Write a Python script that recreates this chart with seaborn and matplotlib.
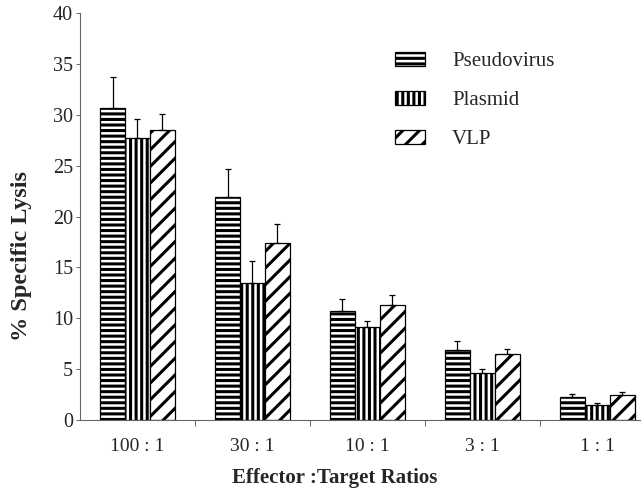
import numpy as np
import pandas as pd
import matplotlib
matplotlib.use("Agg")
import matplotlib.pyplot as plt
from matplotlib.patches import Patch
import seaborn as sns

# -----------------------------
# DATA
# -----------------------------
ratios = ["100 : 1", "30 : 1", "10 : 1", "3 : 1", "1 : 1"]
antigens = ["Pseudovirus", "Plasmid", "VLP"]

pseudovirus = [30.7, 21.9, 10.7, 6.9, 2.3]
plasmid = [27.7, 13.5, 9.1, 4.65, 1.45]
vlp = [28.5, 17.4, 11.3, 6.5, 2.45]

# upper error bars only (SD above mean)
pseudovirus_err = [3.0, 2.8, 1.2, 0.9, 0.3]
plasmid_err = [1.9, 2.1, 0.6, 0.35, 0.25]
vlp_err = [1.6, 1.9, 1.0, 0.45, 0.35]

y_ticks = [0, 5, 10, 15, 20, 25, 30, 35, 40]

values = {"Pseudovirus": pseudovirus, "Plasmid": plasmid, "VLP": vlp}
errors = {"Pseudovirus": pseudovirus_err, "Plasmid": plasmid_err, "VLP": vlp_err}
hatches = {"Pseudovirus": "---", "Plasmid": "|||", "VLP": "//"}

df = pd.DataFrame(
    [(r, a, values[a][i]) for a in antigens for i, r in enumerate(ratios)],
    columns=["Ratio", "Antigen", "Lysis"],
)

# -----------------------------
# PLOT
# -----------------------------
sns.set_style("white")
plt.rcParams["font.family"] = ["Liberation Serif", "DejaVu Serif"]
plt.rcParams["hatch.linewidth"] = 2.2
plt.rcParams["hatch.color"] = "black"

fig = plt.figure(figsize=(6.41, 4.92), dpi=100)
ax = fig.add_axes([80 / 641, 72 / 492, 561 / 641, 407 / 492])

sns.barplot(
    data=df, x="Ratio", y="Lysis", hue="Antigen",
    order=ratios, hue_order=antigens,
    width=0.65, palette=["white"] * 3,
    edgecolor="black", linewidth=0.9, errorbar=None,
    legend=False, ax=ax,
)

for container, name in zip(ax.containers, antigens):
    xs, ys = [], []
    for bar in container:
        bar.set_hatch(hatches[name])
        xs.append(bar.get_x() + bar.get_width() / 2)
        ys.append(bar.get_height())
    err = np.array(errors[name])
    ax.errorbar(xs, ys, yerr=[np.zeros_like(err), err], fmt="none",
                ecolor="black", elinewidth=0.9, capsize=2.2, capthick=0.9,
                zorder=1)

# legend with hatched patches
handles = [Patch(facecolor="white", edgecolor="black", hatch=hatches[a],
                 linewidth=0.9) for a in antigens]
fig.legend(handles, antigens, loc="upper left",
           bbox_to_anchor=(395 / 641, 1 - 52 / 492), frameon=False,
           fontsize=15, handlelength=1.44, handleheight=0.63,
           labelspacing=0.95, handletextpad=1.3,
           borderpad=0, borderaxespad=0)

ax.set_ylim(0, 40)
ax.set_xlim(-0.5, 4.38)
ax.set_yticks(y_ticks)
ax.set_yticklabels([str(t) for t in y_ticks], fontsize=14.5)
ax.set_xticks(range(len(ratios)))
ax.set_xticklabels(ratios, fontsize=14)
ax.set_xticks(np.arange(0.5, 4.5, 1.0), minor=True)

ax.tick_params(axis="x", which="major", length=0, pad=13)
ax.tick_params(axis="x", which="minor", length=4, width=0.7,
               color="#666666", direction="out", bottom=True)
ax.tick_params(axis="y", length=3, width=0.7, color="#666666",
               direction="out", left=True, pad=2)

for side in ["top", "right"]:
    ax.spines[side].set_visible(False)
for side in ["left", "bottom"]:
    ax.spines[side].set_color("#666666")
    ax.spines[side].set_linewidth(0.8)

ax.set_xlabel("Effector :Target Ratios", fontsize=15, fontweight="bold")
ax.set_ylabel("% Specific Lysis", fontsize=17.5, fontweight="bold")
ax.xaxis.set_label_coords(255 / 561, -48 / 407)
ax.yaxis.set_label_coords(-48 / 561, 164 / 407)

plt.savefig("out.png", dpi=100)
